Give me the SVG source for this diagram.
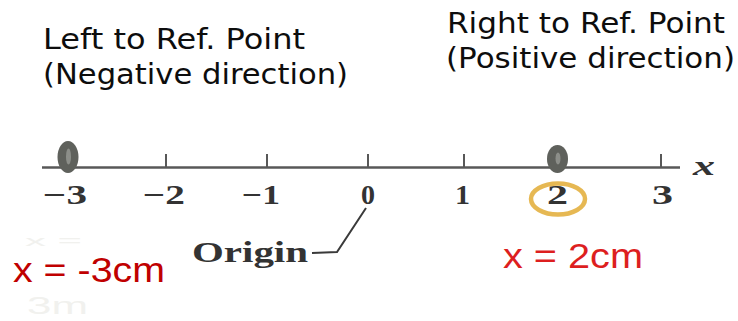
<svg xmlns="http://www.w3.org/2000/svg" width="738" height="321" viewBox="0 0 738 321">
<style>
.hdr{font-family:"DejaVu Sans","Liberation Sans",sans-serif;font-size:28px;fill:#0d0d0d}
.num{font-family:"Liberation Serif","DejaVu Serif",serif;font-weight:bold;font-size:28px;fill:#333333;text-anchor:start}
.axis{stroke:#585858;stroke-width:2.5;fill:none}
.tick{stroke:#585858;stroke-width:2;fill:none}
.dot{fill:#5f615c}
.dotin{fill:#8c8e89}
.red{font-family:"Liberation Sans",Arial,sans-serif;font-size:35px}
.ghost{font-family:"Liberation Sans",Arial,sans-serif;fill:#f1f1ee}
</style>
<rect width="738" height="321" fill="#ffffff"/>

<g id="header-left">
<text class="hdr" x="43" y="49" textLength="262" lengthAdjust="spacingAndGlyphs">Left to Ref. Point</text>
<text class="hdr" x="43" y="84" textLength="305" lengthAdjust="spacingAndGlyphs">(Negative direction)</text>
</g>
<g id="header-right">
<text class="hdr" x="447" y="33" textLength="278" lengthAdjust="spacingAndGlyphs">Right to Ref. Point</text>
<text class="hdr" x="446" y="68" textLength="289" lengthAdjust="spacingAndGlyphs">(Positive direction)</text>
</g>

<g id="axis">
<line class="axis" x1="42" y1="167.5" x2="680" y2="167.5"/>
<line class="tick" x1="166" y1="154" x2="166" y2="167"/>
<line class="tick" x1="267" y1="154" x2="267" y2="167"/>
<line class="tick" x1="368" y1="154" x2="368" y2="167"/>
<line class="tick" x1="464" y1="154" x2="464" y2="167"/>
<line class="tick" x1="661" y1="154" x2="661" y2="167"/>
<text x="693" y="175" font-family="Liberation Serif,DejaVu Serif,serif" font-style="italic" font-weight="bold" font-size="28" fill="#333333" textLength="22" lengthAdjust="spacingAndGlyphs">x</text>
</g>

<g id="labels">
<text class="num" x="43" y="204" textLength="44" lengthAdjust="spacingAndGlyphs">−3</text>
<text class="num" x="143" y="204" textLength="42" lengthAdjust="spacingAndGlyphs">−2</text>
<text class="num" x="242" y="204" textLength="38" lengthAdjust="spacingAndGlyphs">−1</text>
<text class="num" x="361" y="204" textLength="14" lengthAdjust="spacingAndGlyphs">0</text>
<text class="num" x="455" y="204" textLength="15" lengthAdjust="spacingAndGlyphs">1</text>
<text class="num" x="547" y="204" textLength="21" lengthAdjust="spacingAndGlyphs">2</text>
<text class="num" x="652" y="204" textLength="21" lengthAdjust="spacingAndGlyphs">3</text>
</g>

<g id="point-neg3">
<ellipse class="dot" cx="68" cy="157" rx="10.5" ry="16"/>
<ellipse class="dotin" cx="68.5" cy="156.5" rx="2.5" ry="8"/>
</g>
<g id="point-2">
<ellipse class="dot" cx="557.5" cy="159" rx="10.5" ry="14"/>
<ellipse class="dotin" cx="558" cy="158.5" rx="2.5" ry="6"/>
<ellipse cx="558" cy="199" rx="27" ry="15.5" fill="none" stroke="#E6B853" stroke-width="4.5"/>
</g>

<g id="origin">
<text x="192" y="262" font-family="Liberation Serif,DejaVu Serif,serif" font-weight="bold" font-size="29" fill="#333333" textLength="116" lengthAdjust="spacingAndGlyphs">Origin</text>
</g>
<g id="connectors">
<path d="M312,253 L337,252 L366,208" fill="none" stroke="#3a3a3a" stroke-width="2"/>
</g>

<g id="ghost">
<text class="ghost" x="25" y="246" font-size="14" textLength="57" lengthAdjust="spacingAndGlyphs">x =</text>
<text class="ghost" x="27" y="314" font-size="24" textLength="61" lengthAdjust="spacingAndGlyphs">3m</text>
</g>

<g id="value-left">
<text class="red" x="13" y="282" fill="#C00000" textLength="152" lengthAdjust="spacingAndGlyphs">x = -3cm</text>
</g>
<g id="value-right">
<text class="red" x="503" y="268" fill="#DD1F1F" textLength="140" lengthAdjust="spacingAndGlyphs">x = 2cm</text>
</g>
</svg>
